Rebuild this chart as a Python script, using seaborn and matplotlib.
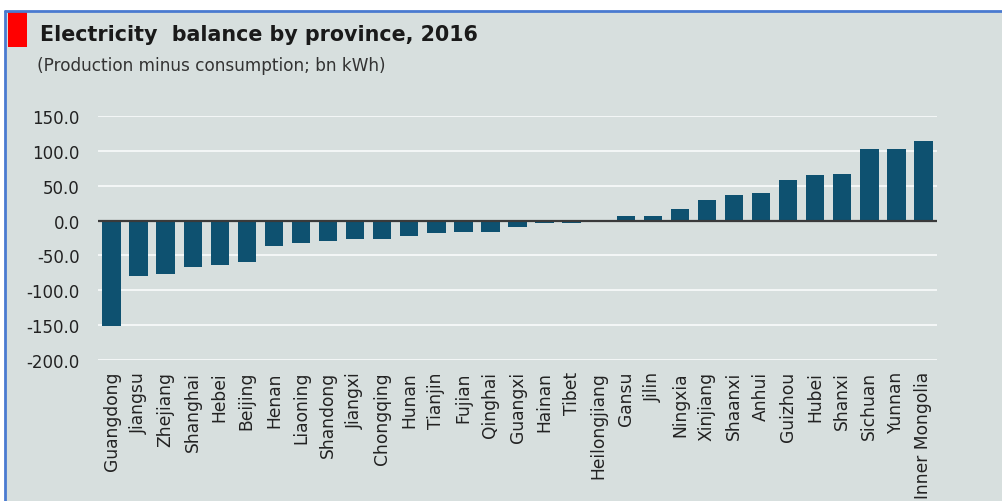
import numpy as np
import matplotlib
matplotlib.use("Agg")
import matplotlib.pyplot as plt
import seaborn as sns
from matplotlib.patches import Rectangle
from matplotlib.lines import Line2D

sns.set_style("white")
plt.rcParams['font.family'] = ['DejaVu Sans']

# data (bn kWh, production minus consumption)
provinces = ['Guangdong', 'Jiangsu', 'Zhejiang', 'Shanghai', 'Hebei', 'Beijing',
             'Henan', 'Liaoning', 'Shandong', 'Jiangxi', 'Chongqing', 'Hunan',
             'Tianjin', 'Fujian', 'Qinghai', 'Guangxi', 'Hainan', 'Tibet',
             'Heilongjiang', 'Gansu', 'Jilin', 'Ningxia', 'Xinjiang', 'Shaanxi',
             'Anhui', 'Guizhou', 'Hubei', 'Shanxi', 'Sichuan', 'Yunnan',
             'Inner Mongolia']
balance = [-151.0, -79.0, -76.5, -67.0, -63.5, -59.5,
           -36.0, -32.0, -29.0, -26.5, -26.5, -21.5,
           -18.5, -16.5, -16.5, -9.0, -3.5, -3.5,
           -0.5, 6.0, 6.0, 17.0, 29.5, 36.5,
           39.5, 57.5, 65.0, 67.0, 102.5, 102.5,
           114.5]
yticks = [-200, -150, -100, -50, 0, 50, 100, 150]

BG = '#d7dfde'
BAR = '#0e5170'
W, H = 1002, 502

fig = plt.figure(figsize=(W / 100, H / 100), dpi=100, facecolor='white')

# panel background and blue frame
fig.patches.append(Rectangle((5 / W, 0), 1 - 5 / W, 1 - 12 / H, transform=fig.transFigure,
                             facecolor=BG, edgecolor='none', zorder=-5))
fig.add_artist(Line2D([5 / W, 1], [1 - 12 / H, 1 - 12 / H], transform=fig.transFigure,
                      color='#4a7ad0', lw=2))
fig.add_artist(Line2D([5 / W, 5 / W], [0, 1 - 12 / H], transform=fig.transFigure,
                      color='#4a7ad0', lw=2))
# red tag
fig.add_artist(Rectangle((8 / W, 1 - 48 / H), 19 / W, 35 / H, transform=fig.transFigure,
                         facecolor='#ff0000', edgecolor='none'))

fig.text(40 / W, 1 - 35 / H, 'Electricity  balance by province, 2016', fontsize=14.9,
         fontweight='bold', color='#1a1a1a', ha='left', va='center')
fig.text(37 / W, 1 - 66 / H, '(Production minus consumption; bn kWh)', fontsize=12.2,
         color='#333333', ha='left', va='center')

ax = fig.add_axes([98 / W, 1 - 361 / H, (937 - 98) / W, (361 - 117) / H])
ax.set_facecolor(BG)

sns.barplot(x=provinces, y=balance, color=BAR, width=0.68, saturation=1,
            linewidth=0, ax=ax, zorder=3)

ax.set_ylim(-200, 150)
ax.set_xlim(-0.5, len(provinces) - 0.5)
ax.set_yticks(yticks)
ax.set_yticklabels([f'{v:.1f}' for v in yticks], fontsize=12, color='#222222')
ax.yaxis.grid(True, color='#f4f7f7', lw=1.4, zorder=0)
ax.set_axisbelow(True)
ax.axhline(0, color='#3a3a3a', lw=1.6, zorder=4)
for s in ax.spines.values():
    s.set_visible(False)
ax.tick_params(axis='y', length=0, pad=13)
ax.tick_params(axis='x', length=0, pad=8)
plt.setp(ax.get_xticklabels(), rotation=90, fontsize=12.3, color='#222222')
ax.set_xlabel('')
ax.set_ylabel('')

fig.savefig('out.png', dpi=100, facecolor='white')
